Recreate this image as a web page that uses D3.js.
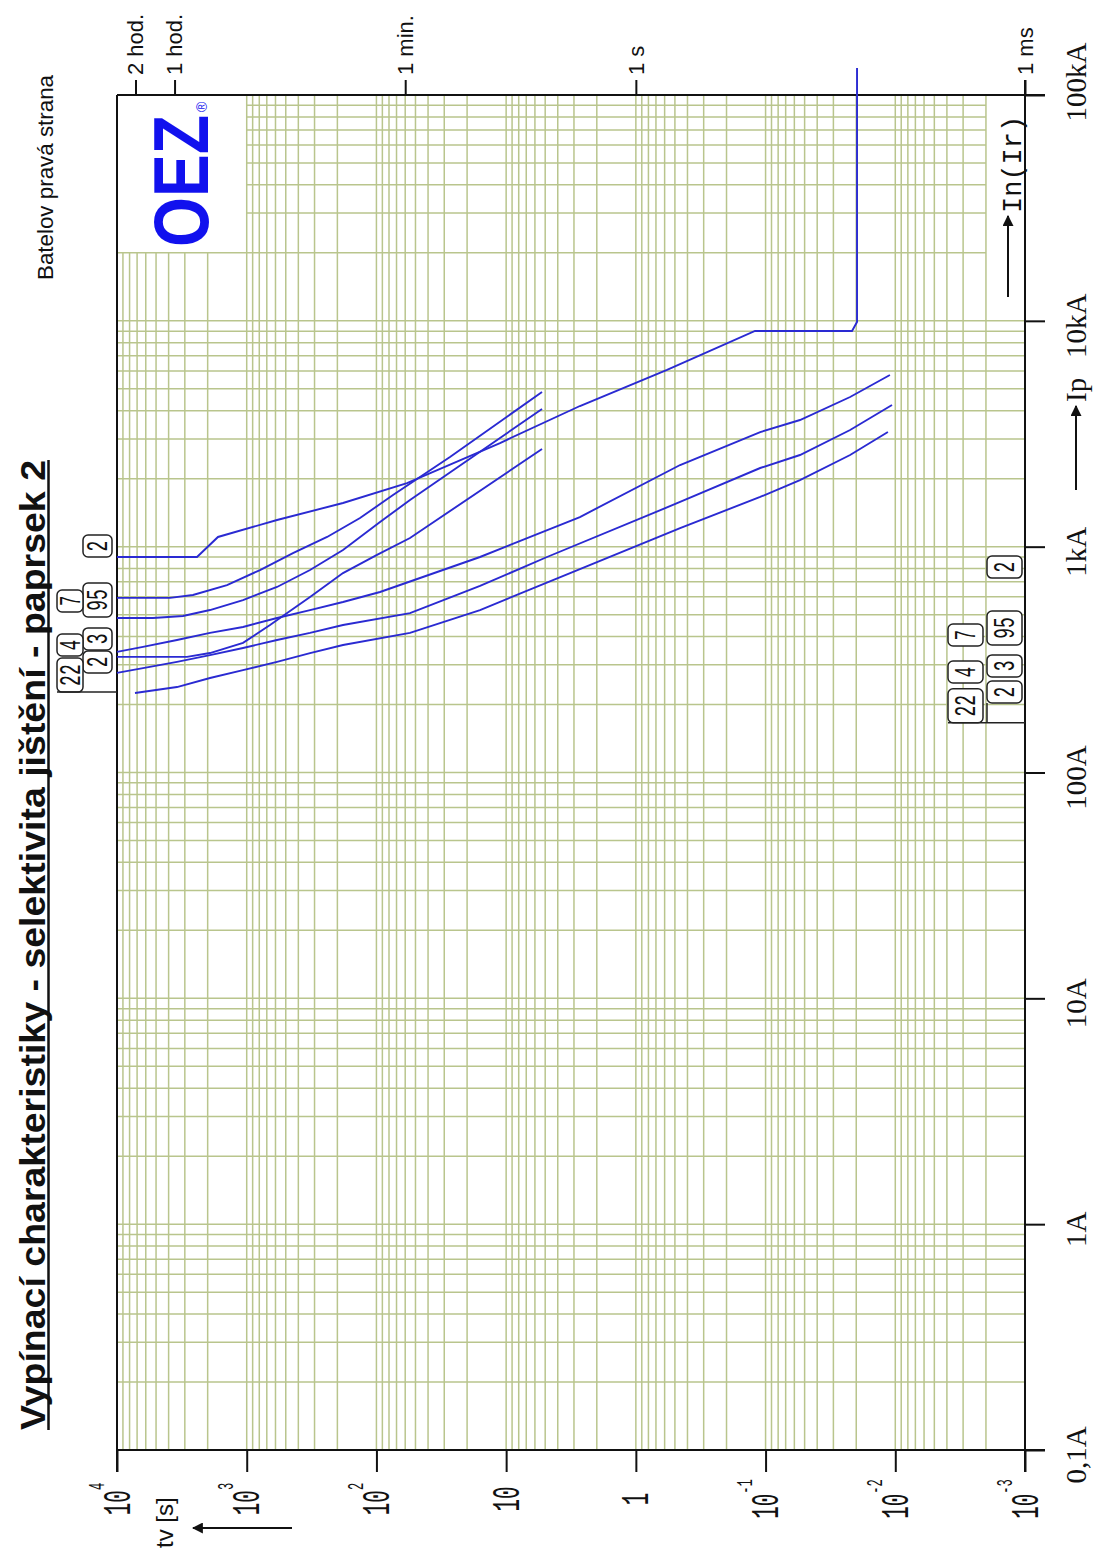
<!DOCTYPE html>
<html>
<head>
<meta charset="utf-8">
<script src="https://cdn.jsdelivr.net/npm/d3@7"></script>
<style>
body { margin: 0; background: #fff; }
svg { display: block; }
</style>
</head>
<body>
<svg id="chart" width="1101" height="1551"></svg>
<script>
// cas v sekundach, proud v amperech
var timeDecades = [1e4, 1e3, 1e2, 10, 1, 0.1, 0.01, 0.001];
var timeDecadeLabels = [["10","4"], ["10","3"], ["10","2"], ["10",""], ["1",""], ["10","-1"], ["10","-2"], ["10","-3"]];
var timeTopTicks = [7200, 3600, 60, 1, 0.001];
var timeTopLabels = ["2 hod.", "1 hod.", "1 min.", "1 s", "1 ms"];
var currentDecades = [0.1, 1, 10, 100, 1000, 1e4, 1e5];
var currentLabels = ["0,1A", "1A", "10A", "100A", "1kA", "10kA", "100kA"];

// charakteristiky [t, I]
var curve2a = [[1e4,900],[2416,900],[1665,1104],[584,1312],[181,1561],[58.1,1913],[11.15,2877],[2.70,4196],[0.575,6059],[0.1206,9016],[0.02156,9016],[0.01972,9880],[0.01972,131700]];
var curve7 = [[1e4,593],[3903,593],[2596,611],[1419,676],[790,788],[440,937],[240,1104],[133.8,1339],[74.5,1693],[27.1,2495],[5.29,4841]];
var curve95 = [[1e4,483],[5278,483],[3099,493],[1919,524],[1068,580],[584,663],[325,788],[181,966],[93.8,1286],[55.1,1609],[5.29,4070]];
var curve4 = [[1e4,325],[2886,325],[1919,338],[1068,375],[661,450],[325,599],[181,764],[99,919],[55.1,1092],[5.29,2707]];
var curve3 = [[1e4,342],[6304,360],[3447,386],[1919,415],[1068,441],[584,483],[325,524],[181,569],[93.8,630],[15.9,900],[2.70,1353],[0.456,2299],[0.110,3218],[0.0543,3638],[0.0223,4600],[0.0110,5756]];
var curve2b = [[1e4,276],[6304,290],[3447,309],[1919,331],[1068,356],[584,386],[325,415],[181,450],[55.1,508],[15.9,670],[4.84,900],[0.456,1577],[0.110,2230],[0.0543,2546],[0.0223,3286],[0.0106,4240]];
var curve22 = [[7265,225],[3447,239],[1919,262],[1068,284],[584,309],[325,338],[181,367],[55.1,415],[15.9,524],[2.70,796],[0.456,1209],[0.110,1660],[0.0543,1973],[0.0223,2546],[0.0114,3218]];

// oznaceni (stitky) - text a proud spodni hrany
var tagsLeftInner = ["2", "95", "3", "2"];
var tagsLeftInnerI = [900, 488, 349, 276];
var tagsLeftOuter = ["7", "4", "22"];
var tagsLeftOuterI = [514, 328, 227];
var tagsRightInner = ["2", "95", "3", "2"];
var tagsRightInnerI = [726, 367, 265, 203];
var tagsRightOuter = ["7", "4", "22"];
var tagsRightOuterI = [363, 249, 166];

var svg = d3.select("#chart");
var pLeft = 117, pRight = 1025, pTop = 95, pBottom = 1450;

var x = d3.scaleLog().domain([1e4, 1e-3]).range([pLeft, pRight]);
var y = d3.scaleLog().domain([0.1, 1e5]).range([pBottom, pTop]);

var gridColor = "#b9c58d";
var blue = "#2a2ad2";

// mrizka
var grid = svg.append("g");
x.ticks().forEach(function (t) {
	if (t >= 1e4 * 0.99 || t <= 1e-3 * 1.01) return;
	grid.append("line")
		.attr("x1", x(t)).attr("x2", x(t))
		.attr("y1", pBottom)
		.attr("y2", t > 1000 * 1.01 ? y(20000) : pTop)
		.attr("stroke", gridColor).attr("stroke-width", 1.5);
});
y.ticks().forEach(function (c) {
	if (c <= 0.1 * 1.01 || c >= 1e5 * 0.99) return;
	grid.append("line")
		.attr("y1", y(c)).attr("y2", y(c))
		.attr("x1", c > 20000 * 1.01 ? x(1000) : pLeft)
		.attr("x2", c > 10000 * 1.01 ? x(0.002) : pRight)
		.attr("stroke", gridColor).attr("stroke-width", 1.5);
});

// osy - carky
function tickStyle(g) {
	g.select(".domain").remove();
	g.selectAll(".tick line").attr("stroke", "#111").attr("stroke-width", 2);
	g.selectAll(".tick text").remove();
}
svg.append("g").attr("transform", "translate(0," + pBottom + ")")
	.call(d3.axisBottom(x).tickValues(timeDecades).tickSize(22).tickFormat(""))
	.call(tickStyle);
svg.append("g").attr("transform", "translate(0," + pTop + ")")
	.call(d3.axisTop(x).tickValues(timeTopTicks).tickSize(15).tickFormat(""))
	.call(tickStyle);
svg.append("g").attr("transform", "translate(" + pRight + ",0)")
	.call(d3.axisRight(y).tickValues(currentDecades).tickSize(20).tickFormat(""))
	.call(tickStyle);

// ramecek
var frame = svg.append("g").attr("stroke", "#111").attr("stroke-width", 2);
frame.append("line").attr("x1", pLeft).attr("x2", pLeft).attr("y1", pTop).attr("y2", pBottom + 22);
frame.append("line").attr("x1", pLeft).attr("x2", pRight + 20).attr("y1", pBottom).attr("y2", pBottom);
frame.append("line").attr("x1", pLeft).attr("x2", pRight + 20).attr("y1", pTop).attr("y2", pTop);
frame.append("line").attr("x1", pRight).attr("x2", pRight).attr("y1", pTop - 15).attr("y2", pBottom + 22);

// svisly text
function vtext(px, py, str, sx) {
	return svg.append("text")
		.attr("transform", "translate(" + px + "," + py + ") rotate(-90)" + (sx ? " scale(" + sx + ",1)" : ""))
		.text(str);
}

// popisky casu dole
timeDecades.forEach(function (t, i) {
	var lab = timeDecadeLabels[i];
	var tx = svg.append("text")
		.attr("transform", "translate(" + x(t) + ",1499) rotate(-90) scale(0.55,1)")
		.attr("text-anchor", "middle")
		.attr("font-family", "Liberation Mono")
		.attr("font-size", 38)
		.attr("fill", "#111");
	tx.append("tspan").attr("dy", "0.33em").text(lab[0]);
	if (lab[1]) tx.append("tspan").attr("dy", -26).attr("font-size", 22).text(lab[1]);
});

// popisky casu nahore
timeTopTicks.forEach(function (t, i) {
	vtext(x(t), 75, timeTopLabels[i])
		.attr("dy", "0.36em")
		.attr("font-family", "Liberation Sans")
		.attr("font-size", 22)
		.attr("fill", "#111");
});

// popisky proudu vpravo
currentDecades.forEach(function (c, i) {
	var py = c >= 1e5 ? 82 : y(c) + 5;
	vtext(1086, py, currentLabels[i])
		.attr("text-anchor", "middle")
		.attr("font-family", "Liberation Serif")
		.attr("font-size", 29)
		.attr("fill", "#111");
});
vtext(1086, 402, "Ip").attr("font-family", "Liberation Serif").attr("font-size", 29).attr("fill", "#111");
vtext(1021, 213, "In(Ir)").attr("font-family", "Liberation Mono").attr("font-size", 27).attr("fill", "#111");

// sipky
svg.append("defs").append("marker")
	.attr("id", "head").attr("viewBox", "0 0 10 10").attr("refX", 9).attr("refY", 5)
	.attr("markerWidth", 11).attr("markerHeight", 11).attr("markerUnits", "userSpaceOnUse")
	.attr("orient", "auto")
	.append("path").attr("d", "M0,0 L10,5 L0,10 Z").attr("fill", "#111");
function arrow(x1, y1, x2, y2) {
	svg.append("line").attr("x1", x1).attr("y1", y1).attr("x2", x2).attr("y2", y2)
		.attr("stroke", "#111").attr("stroke-width", 2).attr("marker-end", "url(#head)");
}
arrow(1076, 490, 1076, 406);
arrow(1008, 297, 1008, 216);
arrow(292, 1528, 193, 1528);

vtext(173, 1548, "tv [s]").attr("font-family", "Liberation Sans").attr("font-size", 24).attr("fill", "#111");

// nadpis
vtext(45, 1430, "Vypínací charakteristiky - selektivita jištění - paprsek 2")
	.attr("font-family", "Liberation Sans").attr("font-weight", "bold").attr("font-size", 35)
	.attr("textLength", 970).attr("lengthAdjust", "spacingAndGlyphs").attr("fill", "#111");
svg.append("line").attr("x1", 48.5).attr("x2", 48.5).attr("y1", 1430).attr("y2", 460)
	.attr("stroke", "#111").attr("stroke-width", 2.5);

vtext(53, 280, "Batelov pravá strana")
	.attr("font-family", "Liberation Sans").attr("font-size", 22)
	.attr("textLength", 205).attr("lengthAdjust", "spacingAndGlyphs").attr("fill", "#111");

// logo
vtext(208, 247, "OEZ")
	.attr("font-family", "Liberation Sans").attr("font-weight", "bold").attr("font-size", 78)
	.attr("textLength", 132).attr("lengthAdjust", "spacingAndGlyphs").attr("fill", "#1111ee");
vtext(207, 112, "®").attr("font-family", "Liberation Sans").attr("font-size", 14).attr("fill", "#1111ee");

// stitky
function drawTags(names, currents, x0, w) {
	names.forEach(function (n, i) {
		var yb = y(currents[i]);
		var h = n.length > 1 ? 34 : 22;
		svg.append("rect")
			.attr("x", x0).attr("y", yb - h).attr("width", w).attr("height", h).attr("rx", 5)
			.attr("fill", "#fff").attr("stroke", "#222").attr("stroke-width", 1.5);
		svg.append("text")
			.attr("transform", "translate(" + (x0 + w / 2) + "," + (yb - h / 2) + ") rotate(-90) scale(0.62,1)")
			.attr("text-anchor", "middle").attr("dy", "0.33em")
			.attr("font-family", "Liberation Mono").attr("font-size", 29).attr("fill", "#111")
			.text(n);
	});
}
drawTags(tagsLeftInner, tagsLeftInnerI, 83, 29);
drawTags(tagsLeftOuter, tagsLeftOuterI, 57, 26);
drawTags(tagsRightInner, tagsRightInnerI, 987, 35);
drawTags(tagsRightOuter, tagsRightOuterI, 948, 35);
svg.append("line").attr("x1", 57).attr("x2", pLeft).attr("y1", y(227)).attr("y2", y(227)).attr("stroke", "#222").attr("stroke-width", 1.5);
svg.append("line").attr("x1", 948).attr("x2", pRight).attr("y1", y(166)).attr("y2", y(166)).attr("stroke", "#222").attr("stroke-width", 1.5);
svg.append("line").attr("x1", 987).attr("x2", 987).attr("y1", y(203)).attr("y2", y(166)).attr("stroke", "#222").attr("stroke-width", 1.5);

// krivky
var line = d3.line().x(function (d) { return x(d[0]); }).y(function (d) { return y(d[1]); });
[curve2a, curve7, curve95, curve4, curve3, curve2b, curve22].forEach(function (c) {
	svg.append("path").datum(c)
		.attr("d", line)
		.attr("fill", "none")
		.attr("stroke", blue)
		.attr("stroke-width", 1.9);
});
</script>
</body>
</html>
